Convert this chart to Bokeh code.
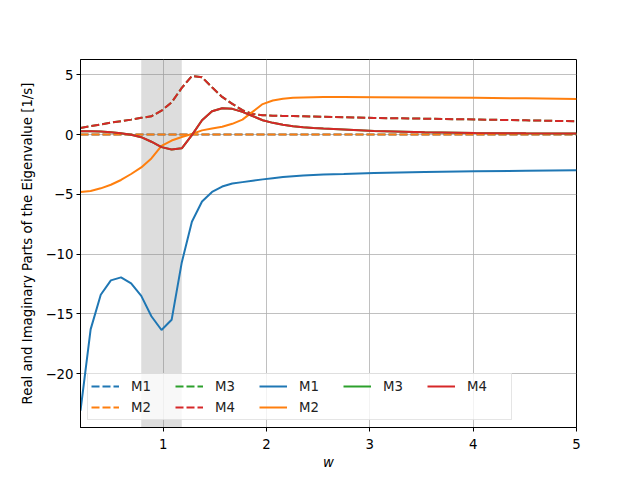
from bokeh.plotting import figure
from bokeh.models import (BoxAnnotation, Legend, LegendItem, Range1d,
                          FixedTicker, CustomJSTickFormatter)
from bokeh.embed import file_html
from bokeh.resources import INLINE

# frequency grid
w = [0.200, 0.298, 0.396, 0.494, 0.592, 0.690, 0.788, 0.886, 0.984, 1.082,
     1.180, 1.278, 1.376, 1.473, 1.571, 1.669, 1.767, 1.865, 1.963, 2.061,
     2.159, 2.257, 2.355, 2.453, 2.551, 2.747, 3.041, 3.531, 4.020, 4.510, 5.000]

# imaginary parts (dashed)
m1_imag = [0.0, 0.0, 0.0, 0.0, 0.0, 0.0, 0.0, 0.0, 0.0, 0.0,
           0.0, 0.0, 0.0, 0.0, 0.0, 0.0, 0.0, 0.0, 0.0, 0.0,
           0.0, 0.0, 0.0, 0.0, 0.0, 0.0, 0.0, 0.0, 0.0, 0.0, 0.0]
m2_imag = [0.0, 0.0, 0.0, 0.0, 0.0, 0.0, 0.0, 0.0, 0.0, 0.0,
           0.0, 0.0, 0.0, 0.0, 0.0, 0.0, 0.0, 0.0, 0.0, 0.0,
           0.0, 0.0, 0.0, 0.0, 0.0, 0.0, 0.0, 0.0, 0.0, 0.0, 0.0]
m3_imag = [0.55, 0.7, 0.85, 1.0, 1.12, 1.25, 1.4, 1.53, 2.0, 2.7,
           3.9, 4.9, 4.8, 3.95, 3.15, 2.57, 2.04, 1.72, 1.62, 1.58,
           1.56, 1.55, 1.53, 1.51, 1.49, 1.45, 1.39, 1.33, 1.26, 1.19, 1.11]
m4_imag = [0.55, 0.7, 0.85, 1.0, 1.12, 1.25, 1.4, 1.53, 2.0, 2.7,
           3.9, 4.9, 4.8, 3.95, 3.15, 2.57, 2.04, 1.72, 1.62, 1.58,
           1.56, 1.55, 1.53, 1.51, 1.49, 1.45, 1.39, 1.33, 1.26, 1.19, 1.11]

# real parts (solid)
m1_real = [-23.1, -16.3, -13.4, -12.2, -11.95, -12.45, -13.5, -15.2, -16.35, -15.5,
           -10.7, -7.3, -5.6, -4.8, -4.35, -4.1, -3.98, -3.86, -3.75, -3.65,
           -3.56, -3.48, -3.42, -3.38, -3.35, -3.3, -3.22, -3.14, -3.08, -3.03, -2.99]
m2_real = [-4.8, -4.72, -4.5, -4.2, -3.8, -3.3, -2.75, -2.0, -0.95, -0.5,
           -0.2, 0.05, 0.35, 0.5, 0.65, 0.9, 1.25, 1.9, 2.55, 2.85,
           3.0, 3.07, 3.11, 3.13, 3.14, 3.15, 3.13, 3.1, 3.07, 3.03, 2.98]
m3_real = [0.28, 0.27, 0.25, 0.2, 0.1, -0.02, -0.22, -0.6, -1.05, -1.25,
           -1.15, -0.05, 1.2, 1.95, 2.2, 2.15, 1.9, 1.55, 1.2, 0.98,
           0.82, 0.7, 0.61, 0.55, 0.5, 0.42, 0.3, 0.2, 0.14, 0.1, 0.08]
m4_real = [0.28, 0.27, 0.25, 0.2, 0.1, -0.02, -0.22, -0.6, -1.05, -1.25,
           -1.15, -0.05, 1.2, 1.95, 2.2, 2.15, 1.9, 1.55, 1.2, 0.98,
           0.82, 0.7, 0.61, 0.55, 0.5, 0.42, 0.3, 0.2, 0.14, 0.1, 0.08]

names = ["M1", "M2", "M3", "M4"]
colors = ["#1f77b4", "#ff7f0e", "#2ca02c", "#d62728"]
shade_lo, shade_hi = 0.788, 1.180

FONT = "DejaVu Sans"

p = figure(width=624, height=464, output_backend="svg", toolbar_location=None,
           frame_width=496, frame_height=368,
           min_border_left=80, min_border_top=59, min_border_right=48, min_border_bottom=37,
           x_range=Range1d(0.2, 5.0), y_range=Range1d(-24.51, 6.28))

p.outline_line_color = "black"
p.outline_line_width = 1
p.background_fill_color = "white"
p.border_fill_color = "white"

p.add_layout(BoxAnnotation(left=shade_lo, right=shade_hi, fill_color="gray",
                           fill_alpha=0.27, line_alpha=0, level="underlay"))

for ax in (p.xaxis[0], p.yaxis[0]):
    ax.major_label_text_font = FONT
    ax.major_label_text_font_size = "13.3px"
    ax.major_label_text_color = "black"
    ax.axis_label_text_font = FONT
    ax.axis_label_text_font_size = "13.3px"
    ax.axis_label_text_color = "black"
    ax.minor_tick_line_color = None
    ax.major_tick_out = 4
    ax.major_tick_in = 0
    ax.axis_line_color = "black"
    ax.major_tick_line_color = "black"
    ax.formatter = CustomJSTickFormatter(code="return String(tick).replace('-', '\u2212');")

p.xaxis.ticker = FixedTicker(ticks=[1, 2, 3, 4, 5])
p.yaxis.ticker = FixedTicker(ticks=[-20, -15, -10, -5, 0, 5])
p.xaxis.major_label_standoff = 7
p.yaxis.major_label_standoff = 3
p.xaxis.axis_label = "w"
p.xaxis.axis_label_text_font_style = "italic"
p.xaxis.axis_label_standoff = 3
p.yaxis.axis_label = "Real and Imaginary Parts of the Eigenvalue [1/s]"
p.yaxis.axis_label_text_font_style = "normal"
p.yaxis.axis_label_standoff = 7

p.grid.grid_line_color = "#b0b0b0"
p.grid.grid_line_width = 0.8
p.grid.grid_line_alpha = 1.0

imag = [m1_imag, m2_imag, m3_imag, m4_imag]
real = [m1_real, m2_real, m3_real, m4_real]

items = []
for n, c, y in zip(names, colors, imag):
    r = p.line(w, y, line_color=c, line_width=2, line_dash="8 3")
    items.append(LegendItem(label=n, renderers=[r]))
solid = []
for n, c, y in zip(names, colors, real):
    r = p.line(w, y, line_color=c, line_width=2)
    solid.append(LegendItem(label=n, renderers=[r]))

# blank slots so the legend columns split 2-2-2-1-1 like the original
blank_r = p.line([], [], line_alpha=0)
items += solid[:3]
items.append(LegendItem(label=" ", renderers=[blank_r]))
items.append(solid[3])
items.append(LegendItem(label=" ", renderers=[blank_r]))

legend = Legend(items=items, location="bottom_left", orientation="vertical", nrows=2,
                margin=7, padding=3, spacing=3, glyph_width=28, glyph_height=18,
                label_standoff=12, label_width=41, label_height=18,
                label_text_font=FONT, label_text_font_size="13.3px",
                label_text_color="#222222",
                border_line_color="#cccccc", border_line_width=1,
                background_fill_color="white", background_fill_alpha=0.8)
p.add_layout(legend)

open("out.html", "w").write(file_html(p, INLINE))
